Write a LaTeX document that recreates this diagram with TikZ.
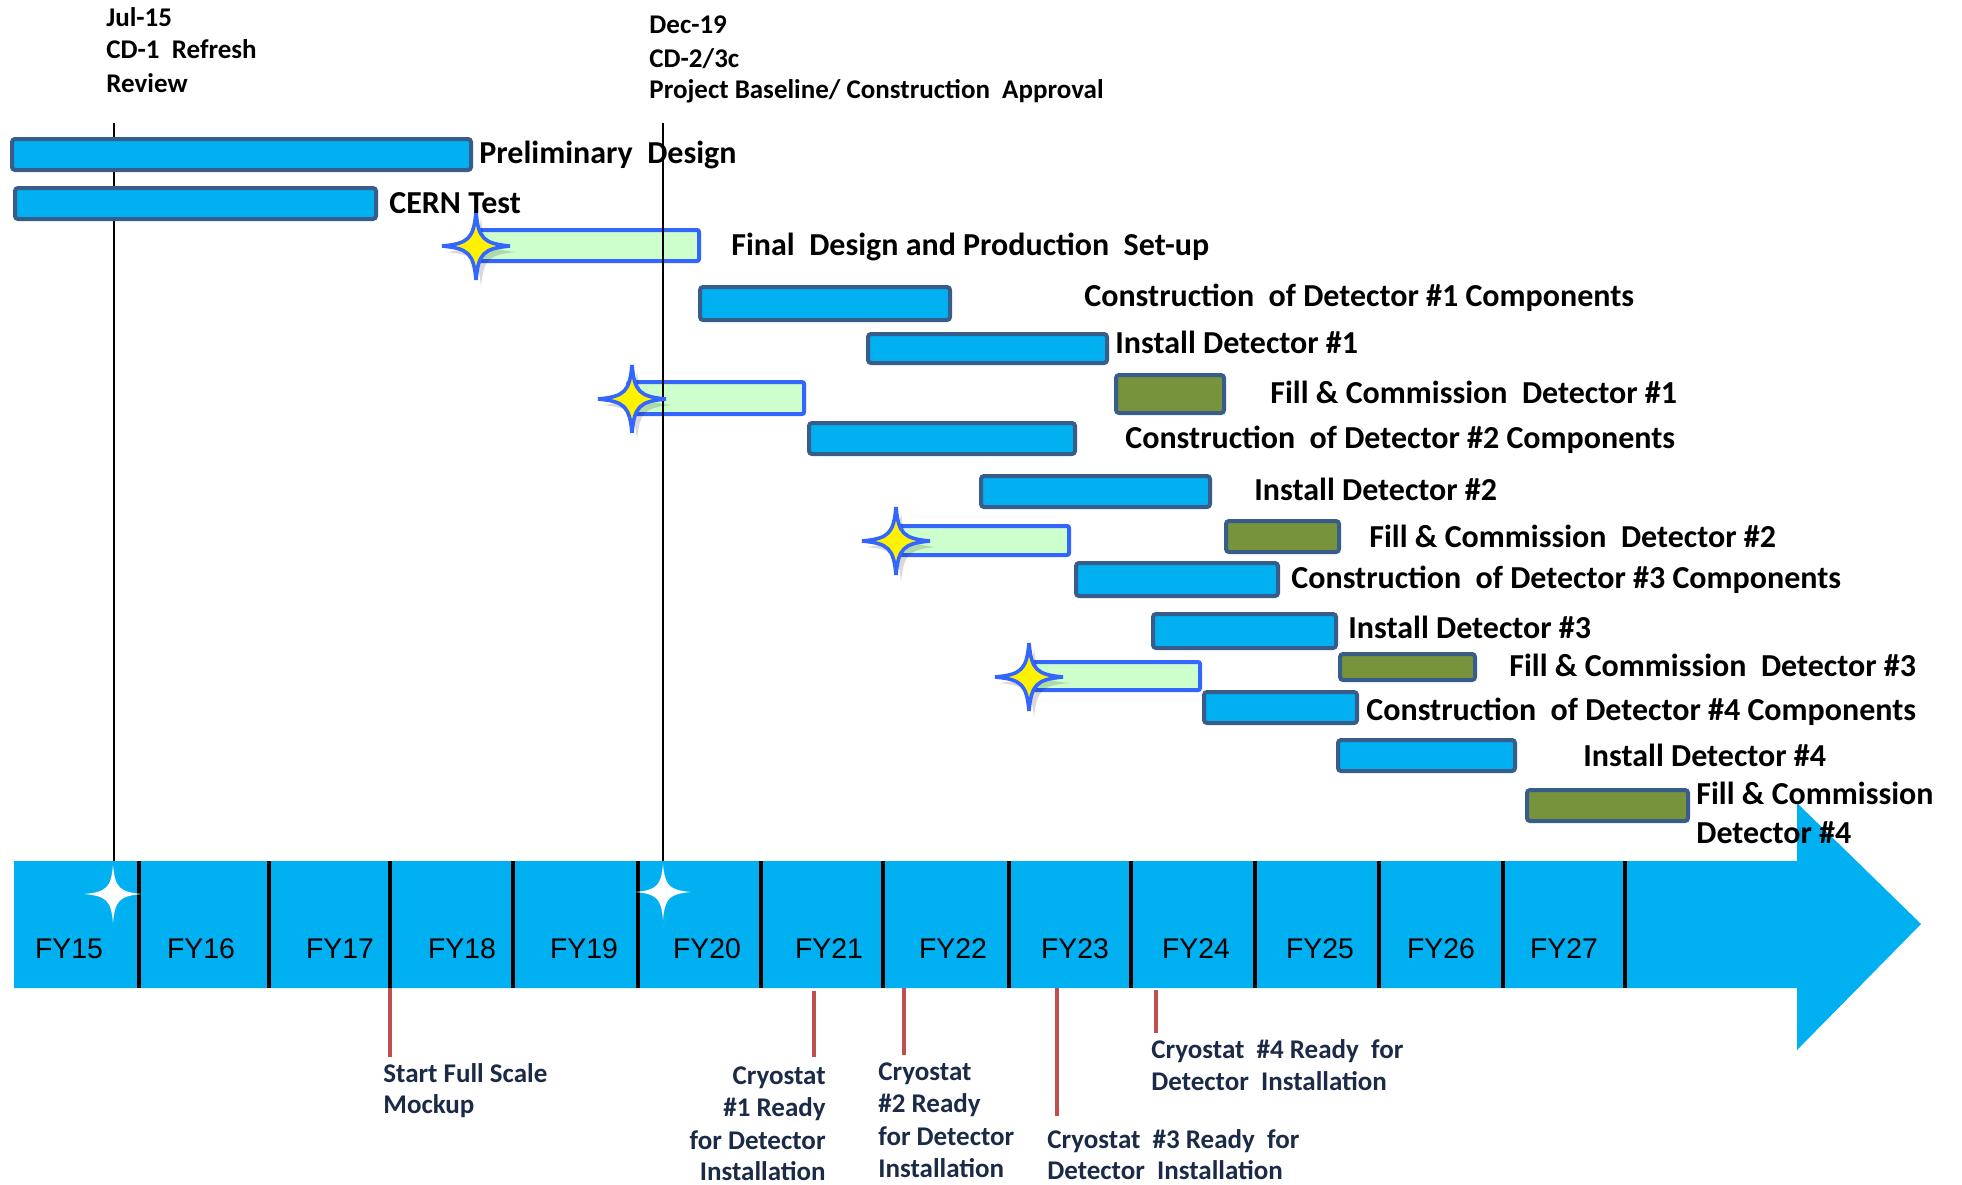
\documentclass[tikz,border=0pt]{standalone}
\usepackage{fontspec}
\setmainfont{Carlito}
\newfontfamily\fyfont{Liberation Sans}

\definecolor{skyband}{HTML}{00B0F0}
\definecolor{barline}{HTML}{385D8A}
\definecolor{prepfill}{HTML}{CCFFCC}
\definecolor{prepline}{HTML}{3366FF}
\definecolor{olivebar}{HTML}{77933C}
\definecolor{markred}{HTML}{C0504D}
\definecolor{navytext}{HTML}{1B2A47}

% four pointed star: [style]{centre}{radius}
\newcommand{\sparkle}[3][]{%
  \path[#1, shift={(#2)}] (0,-#3)
    .. controls (0.07*#3,-0.22*#3) and (0.22*#3,-0.07*#3) .. (#3,0)
    .. controls (0.22*#3,0.07*#3) and (0.07*#3,0.22*#3) .. (0,#3)
    .. controls (-0.07*#3,0.22*#3) and (-0.22*#3,0.07*#3) .. (-#3,0)
    .. controls (-0.22*#3,-0.07*#3) and (-0.07*#3,-0.22*#3) .. (0,-#3) -- cycle;}

\tikzset{
  taskbar/.style={draw=barline, fill=skyband, line width=2pt, rounded corners=1.5pt},
  prepbar/.style={draw=prepline, fill=prepfill, line width=2pt, rounded corners=1pt},
  commbar/.style={draw=barline, fill=olivebar, line width=2pt, rounded corners=1.5pt},
  task/.style={anchor=base west, inner sep=0pt, font=\fontsize{16}{19}\selectfont\bfseries},
  head/.style={anchor=base west, inner sep=0pt, font=\fontsize{13.5}{16}\selectfont\bfseries},
  cryo/.style={anchor=base west, inner sep=0pt, text=navytext, font=\fontsize{13.5}{16}\selectfont\bfseries},
  fy/.style={anchor=base, inner sep=0pt, font=\fyfont\fontsize{14.2}{17}\selectfont},
  divider/.style={line width=2.2pt},
  milestone/.style={line width=1.2pt},
  marker/.style={draw=markred, line width=2.3pt},
}

\begin{document}
\begin{tikzpicture}[x=0.5pt, y=-0.5pt]
\useasboundingbox (0,0) rectangle (1962,1184);

% -----------------------------
% Fiscal year band with arrow
% -----------------------------
\fill[skyband] (14,861) -- (1797,861) -- (1797,803) -- (1921,924)
  -- (1797,1050) -- (1797,988) -- (14,988) -- cycle;

\foreach \dx in {139,269,390,513,638,761,883,1009,1131,1255,1379,1503,1625}
  \draw[divider] (\dx,861) -- (\dx,988);

\foreach \yr/\cx in {15/69,16/201,17/340,18/462,19/584,20/707,21/829,
                     22/953,23/1075,24/1196,25/1320,26/1441,27/1564}
  \node[fy] (fy\yr) at (\cx,958) {FY\yr};

% -----------------------------
% Design / set-up phases (green)
% -----------------------------
\draw[prepbar] (478,230) rectangle (699,261);
\draw[prepbar] (628,382) rectangle (804,414);
\draw[prepbar] (896,526) rectangle (1069,555);
\draw[prepbar] (1029,662) rectangle (1200,690);

% CD milestones
\coordinate (cdatop) at (114,123);
\coordinate (cdabot) at (114,861);
\coordinate (cdbtop) at (663,123);
\coordinate (cdbbot) at (663,861);
\draw[milestone] (cdatop) -- (cdabot);
\draw[milestone] (cdbtop) -- (cdbbot);

% -----------------------------
% Construction / install bars
% -----------------------------
\draw[taskbar] (12,139) rectangle (471,170);    % preliminary design
\draw[taskbar] (15,188) rectangle (376,219);    % cern test
\draw[taskbar] (700,287) rectangle (950,320);   % construction #1
\draw[taskbar] (868,334) rectangle (1107,363);  % install #1
\draw[taskbar] (809,423) rectangle (1075,454);  % construction #2
\draw[taskbar] (981,476) rectangle (1210,507);  % install #2
\draw[taskbar] (1076,563) rectangle (1278,596); % construction #3
\draw[taskbar] (1153,614) rectangle (1336,648); % install #3
\draw[taskbar] (1204,692) rectangle (1357,723); % construction #4
\draw[taskbar] (1338,740) rectangle (1515,771); % install #4

% fill & commission
\draw[commbar] (1116,375) rectangle (1224,413);
\draw[commbar] (1226,521) rectangle (1339,552);
\draw[commbar] (1340,654) rectangle (1475,680);
\draw[commbar] (1527,790) rectangle (1688,821);

% stars
\foreach \sx/\sy in {476/246,632/399,896/541,1029/677} {
  \sparkle[fill=black, opacity=0.15]{\sx+5,\sy+6}{35}
  \sparkle[fill=yellow, draw=prepline, line width=1.8pt, miter limit=3]{\sx,\sy}{34}
}
\sparkle[fill=white]{113,894}{29}
\sparkle[fill=white]{663,892}{28}

% -----------------------------
% Labels
% -----------------------------
\node[head] (cdadate) at (106,26) {Jul-15};
\node[head] (cdaname) at (106,58) {CD-1~ Refresh};
\node[head] (cdadesc) at (106,92) {Review};
\node[head] (cdbdate) at (649,33) {Dec-19};
\node[head] (cdbname) at (649,67) {CD-2/3c};
\node[head] (cdbdesc) at (649,98) {Project Baseline/ Construction~ Approval};

\node[task] (prelim) at (479,163) {Preliminary~ Design};
\node[task] (cern)   at (389,213) {CERN Test};
\node[task] (final)  at (731,255) {Final~ Design and Production~ Set-up};
\node[task] (consa)  at (1084,306) {Construction~ of Detector \#1 Components};
\node[task] (insta)  at (1115,353) {Install Detector \#1};
\node[task] (comma)  at (1270,403) {Fill \& Commission~ Detector \#1};
\node[task] (consb)  at (1125,448) {Construction~ of Detector \#2 Components};
\node[task] (instb)  at (1254,500) {Install Detector \#2};
\node[task] (commb)  at (1369,547) {Fill \& Commission~ Detector \#2};
\node[task] (consc)  at (1291,588) {Construction~ of Detector \#3 Components};
\node[task] (instc)  at (1348,638) {Install Detector \#3};
\node[task] (commc)  at (1509,676) {Fill \& Commission~ Detector \#3};
\node[task] (consd)  at (1366,720) {Construction~ of Detector \#4 Components};
\node[task] (instd)  at (1583,766) {Install Detector \#4};
\node[task] (commd)  at (1696,804) {Fill \& Commission};
\node[task] (commdb) at (1696,843) {Detector \#4};

% cryostat markers under the band
\draw[marker] (390,988) -- (390,1057);
\draw[marker] (814,991) -- (814,1057);
\draw[marker] (904,988) -- (904,1055);
\draw[marker] (1057,988) -- (1057,1116);
\draw[marker] (1156,990) -- (1156,1033);

\node[cryo] (mocka) at (383,1082) {Start Full Scale};
\node[cryo] (mockb) at (383,1113) {Mockup};

\node[cryo, anchor=base east] (cryaa) at (826,1084) {Cryostat};
\node[cryo, anchor=base east] (cryab) at (826,1116) {\#1 Ready};
\node[cryo, anchor=base east] (cryac) at (826,1149) {for Detector};
\node[cryo, anchor=base east] (cryad) at (826,1180) {Installation};

\node[cryo] (cryba) at (878,1080) {Cryostat};
\node[cryo] (crybb) at (878,1112) {\#2 Ready};
\node[cryo] (crybc) at (878,1145) {for Detector};
\node[cryo] (crybd) at (878,1177) {Installation};

\node[cryo] (cryca) at (1047,1148) {Cryostat~ \#3 Ready~ for};
\node[cryo] (crycb) at (1047,1179) {Detector~ Installation};

\node[cryo] (cryda) at (1151,1058) {Cryostat~ \#4 Ready~ for};
\node[cryo] (crydb) at (1151,1090) {Detector~ Installation};

\end{tikzpicture}
\end{document}
